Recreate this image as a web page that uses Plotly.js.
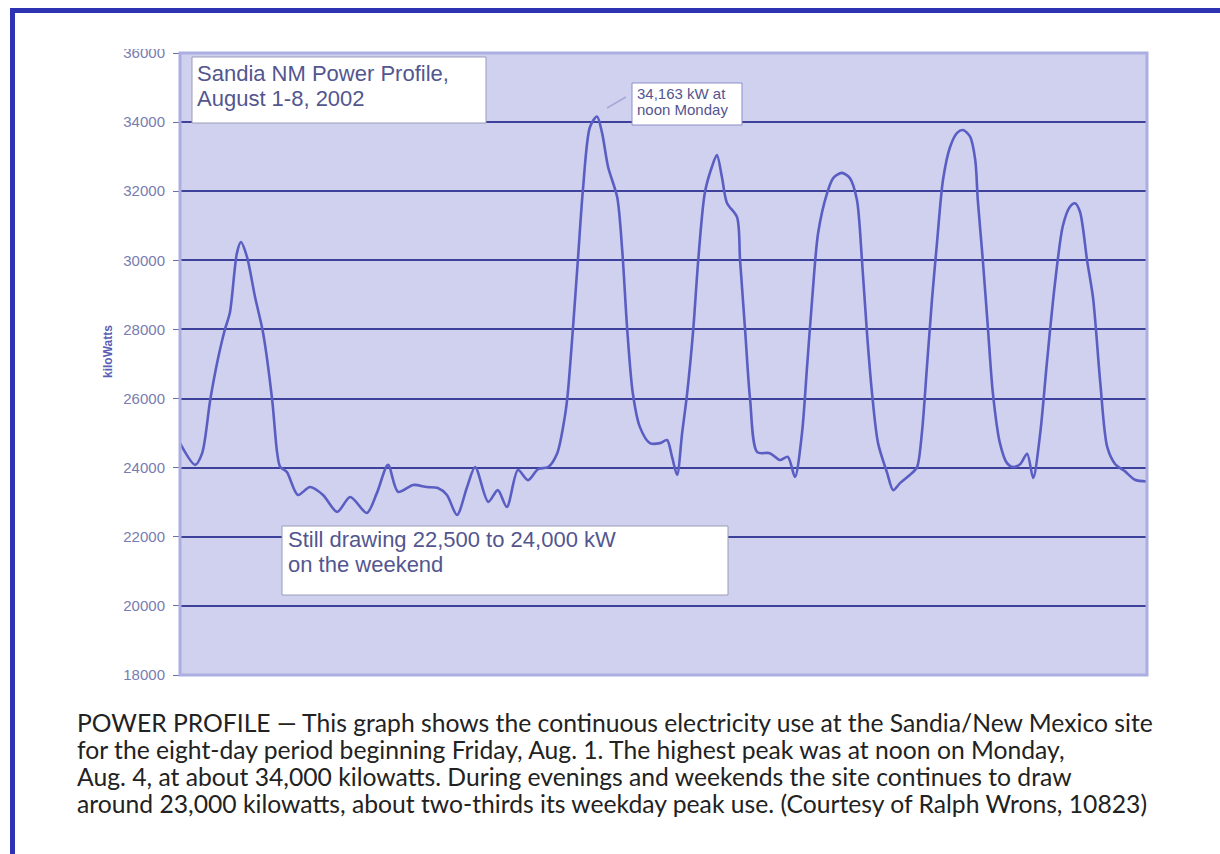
<!DOCTYPE html>
<html><head><meta charset="utf-8">
<script src="https://cdn.plot.ly/plotly-3.0.1.min.js"></script>
<style>
html,body{margin:0;padding:0;background:#fff;}
#wrap{position:relative;width:1220px;height:854px;overflow:hidden;background:#fff;}
#chart{position:absolute;left:0;top:0;width:1220px;height:854px;}
#frame{position:absolute;left:10px;top:8px;right:0;bottom:0;border-top:5px solid #2d33b3;border-left:5px solid #2d33b3;pointer-events:none;}
</style></head><body>
<div id="wrap"><div id="chart"></div><div id="frame"></div></div>
<script>
// ---- data: hours since midnight Fri Aug 1, 2002 and load in kW ----
const hours = [
  0, 3.0, 4.4, 6.0, 7.5, 8.9, 9.9, 11.3, 12.1, 13.3, 14.9, 16.5, 18.3, 19.3, 19.9, 21.2, 23.4,
  25.8, 28.4, 31.2, 33.8, 37.1, 39.1, 41.3, 43.3, 46.3,
  49.0, 51.2, 53.0, 55.0, 57.0, 58.6, 61.2, 63.1, 64.9, 67.1, 69.1, 71.1,
  73.1, 74.9, 76.4, 77.0, 78.0, 79.0, 80.0, 81.4, 82.8, 83.8, 85.0, 86.8, 87.8, 88.8, 89.9, 91.3, 93.3, 95.3,
  96.7, 97.7, 98.7, 99.7, 100.7, 101.9, 102.9, 104.2, 105.6, 106.6, 107.6, 108.6, 110.6, 111.2, 112.2, 113.2, 114.6, 117.1, 119.1,
  120.7, 122.1, 123.5, 124.5, 125.5, 126.7, 128.5, 129.7, 131.4, 133.0, 134.4, 135.4, 136.4, 137.4, 138.6, 140.4, 141.6, 143.0,
  144.9, 146.3, 147.3, 148.3, 149.3, 150.3, 151.5, 152.9, 154.3, 155.5, 156.9, 157.9, 158.4, 159.4, 160.4, 161.4, 162.8, 164.2, 165.4, 166.8,
  168.2, 169.4, 170.8, 172.1, 173.7, 175.3, 176.7, 177.7, 178.7, 180.1, 181.3, 182.7, 184.1, 185.7, 187.6, 189.6, 192
];
const kilowatts = [
  24710, 24080, 24420, 25960, 27120, 27990, 28480, 30210, 30530, 30100, 28940, 27900, 25960, 24420, 24020, 23880, 23210,
  23440, 23210, 22720, 23150, 22690, 23270, 24080, 23300, 23500,
  23440, 23410, 23210, 22630, 23440, 24020, 23010, 23350, 22860, 23930, 23640, 23960,
  24020, 24420, 25470, 26160, 27990, 30010, 32040, 33860, 34163, 33690, 32700, 31830, 30300, 27990, 26160, 25180, 24710, 24710,
  24800, 24310, 23790, 25000, 26160, 27990, 30010, 31950, 32700, 33050, 32410, 31660, 31250, 30010, 27990, 25960, 24450, 24420, 24220,
  24310, 23730, 25000, 26910, 28850, 30790, 31950, 32380, 32530, 32380, 31750, 30010, 27900, 26160, 24710, 23850, 23350, 23560,
  23790, 24000, 25000, 26910, 28850, 30500, 32330, 33280, 33690, 33770, 33570, 32900, 31750, 30010, 28070, 26160, 24710, 24130, 24020, 24100,
  24400, 23700, 25000, 27000, 29300, 31000, 31550, 31650, 31400, 30000, 28900, 26500, 24600, 24100, 23900, 23650, 23600
];
const yTicks = [18000, 20000, 22000, 24000, 26000, 28000, 30000, 32000, 34000, 36000];
const yTitle = "kiloWatts";
const titleLines = ["Sandia NM Power Profile,", "August 1-8, 2002"];
const peakNoteLines = ["34,163 kW at", "noon Monday"];
const weekendLines = ["Still drawing 22,500 to 24,000 kW", "on the weekend"];
const captionLines = [
  "POWER PROFILE \u2014 This graph shows the continuous electricity use at the Sandia/New Mexico site",
  "for the eight-day period beginning Friday, Aug. 1. The highest peak was at noon on Monday,",
  "Aug. 4, at about 34,000 kilowatts. During evenings and weekends the site continues to draw",
  "around 23,000 kilowatts, about two-thirds its weekday peak use. (Courtesy of Ralph Wrons, 10823)"
];

// ---- layout helpers (pixel -> paper) ----
const L = 180, T = 53, W = 967, H = 622;
const px = x => (x - L) / W;
const py = y => (T + H - y) / H;

const capFamily = 'Lato, "Open Sans", sans-serif';
let capSize = 22;
try {
  const c = document.createElement('canvas').getContext('2d');
  c.font = '100px Lato';
  const w = c.measureText(captionLines[0]).width;
  if (w > 0) capSize = Math.round(1077 / w * 100 * 10) / 10;
} catch (e) {}

const boxFont = {family: '"Liberation Sans", Arial, sans-serif', size: 22, color: '#53568f'};
const noteFont = {family: '"Liberation Sans", Arial, sans-serif', size: 15, color: '#53568f'};

const annotations = [];
function textLine(t, x, y, font) {
  annotations.push({text: t, xref: 'paper', yref: 'paper', x: px(x), y: py(y),
    xanchor: 'left', yanchor: 'middle', showarrow: false, font: font, align: 'left'});
}
titleLines.forEach((t, i) => textLine(t, 195, [73, 98][i], boxFont));
weekendLines.forEach((t, i) => textLine(t, 286, [539, 564][i], boxFont));
peakNoteLines.forEach((t, i) => textLine(t, 635, [93, 110][i], noteFont));
captionLines.forEach((t, i) => textLine(t, 75, [722, 749, 776, 803][i],
  {family: capFamily, size: capSize, color: '#222222'}));
annotations.push({text: yTitle, xref: 'paper', yref: 'paper', x: px(108), y: py(352),
  xanchor: 'center', yanchor: 'middle', textangle: -90, showarrow: false,
  font: {family: '"Liberation Sans", Arial, sans-serif', size: 12, color: '#5a5fb5', weight: 'bold'}});

const shapes = [
  {type: 'rect', xref: 'paper', yref: 'paper', x0: 0, x1: 1, y0: 0, y1: 1,
   line: {color: '#abaee0', width: 3}, fillcolor: 'rgba(0,0,0,0)', layer: 'above'},
  {type: 'rect', xref: 'paper', yref: 'paper', x0: px(192), x1: px(486), y0: py(123), y1: py(57),
   line: {color: '#9a9bb8', width: 1}, fillcolor: '#ffffff', layer: 'above'},
  {type: 'rect', xref: 'paper', yref: 'paper', x0: px(282), x1: px(728), y0: py(595), y1: py(526),
   line: {color: '#9a9bb8', width: 1}, fillcolor: '#ffffff', layer: 'above'},
  {type: 'rect', xref: 'paper', yref: 'paper', x0: px(632), x1: px(742), y0: py(125), y1: py(83),
   line: {color: '#8a8dc8', width: 1}, fillcolor: '#ffffff', layer: 'above'},
  {type: 'line', xref: 'paper', yref: 'paper', x0: px(607), x1: px(626), y0: py(108), y1: py(97),
   line: {color: '#a5a8d8', width: 1.5}, layer: 'above'},
  // the scanned chart's top edge crops the top tick label
  {type: 'rect', xref: 'paper', yref: 'paper', x0: px(100), x1: px(176), y0: py(49), y1: py(20),
   line: {width: 0}, fillcolor: '#ffffff', layer: 'above'}
];

const trace = {
  x: hours, y: kilowatts, type: 'scatter', mode: 'lines',
  line: {color: '#5a5ec2', width: 2.6, shape: 'spline', smoothing: 0.8},
  hoverinfo: 'skip'
};

const layout = {
  width: 1220, height: 854,
  margin: {l: L, r: 1220 - L - W, t: T, b: 854 - T - H, pad: 0},
  paper_bgcolor: 'rgba(0,0,0,0)',
  plot_bgcolor: '#cfd1ef',
  showlegend: false,
  xaxis: {range: [0, 192], showgrid: false, zeroline: false, showline: false,
    showticklabels: false, ticks: '', fixedrange: true},
  yaxis: {range: [18000, 36000], tickmode: 'array', tickvals: yTicks,
    ticktext: yTicks.map(String), showgrid: true, gridcolor: '#3e4199', gridwidth: 2,
    zeroline: false, showline: false, ticks: 'outside', ticklen: 6, tickwidth: 1,
    tickcolor: '#6a6ea8', ticklabelstandoff: 5,
    tickfont: {family: '"Liberation Sans", Arial, sans-serif', size: 15, color: '#787cb0'},
    fixedrange: true},
  annotations: annotations,
  shapes: shapes
};

Plotly.newPlot('chart', [trace], layout, {staticPlot: true, displayModeBar: false});
</script>
</body></html>
